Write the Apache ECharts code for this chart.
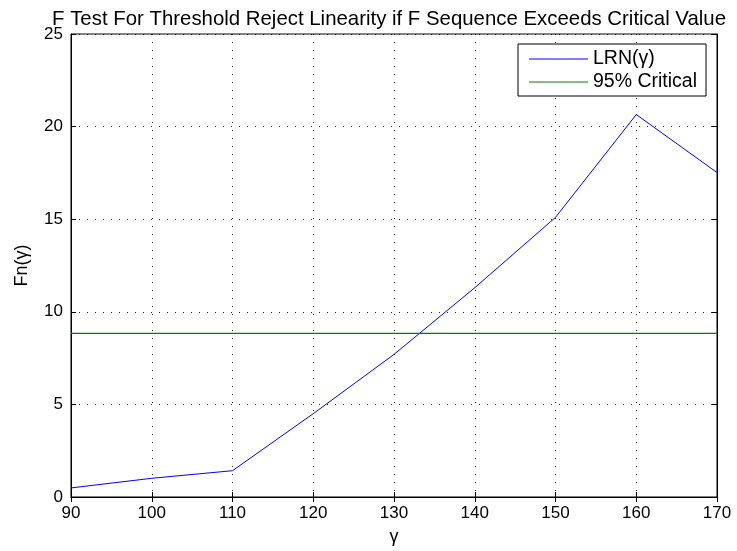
<!DOCTYPE html>
<html>
<head>
<meta charset="utf-8">
<script src="https://cdn.jsdelivr.net/npm/echarts@6/dist/echarts.min.js"></script>
<style>
html,body{margin:0;padding:0;background:#fff;}
#chart{width:737px;height:551px;}
</style>
</head>
<body>
<div id="chart"></div>
<script>
var gammaValues = [90, 100, 110, 120, 130, 140, 150, 160, 170];
var lrnValues = [0.49, 1.01, 1.42, 4.5, 7.7, 11.3, 15.1, 20.65, 17.52];
var criticalValue = 8.83;
var xTicks = [90, 100, 110, 120, 130, 140, 150, 160, 170];
var yTicks = [0, 5, 10, 15, 20, 25];

var font = 'Liberation Sans, Arial, Helvetica, sans-serif';
var lrnData = gammaValues.map(function (g, i) { return [g, lrnValues[i]]; });
var critData = [[xTicks[0], criticalValue], [xTicks[xTicks.length - 1], criticalValue]];

var chart = echarts.init(document.getElementById('chart'), null, {renderer: 'canvas'});
var gridLine = {show: true, lineStyle: {color: '#222', type: [1, 7], width: 1}};
var tickStyle = {show: true, inside: true, length: 5, lineStyle: {color: '#000'}};
chart.setOption({
  animation: false,
  backgroundColor: '#fff',
  title: {
    text: 'F Test For Threshold Reject Linearity if F Sequence Exceeds Critical Value',
    left: 384, top: 4, textAlign: 'center',
    textStyle: {fontFamily: font, fontSize: 20.4, fontWeight: 'normal', color: '#000'}
  },
  legend: {
    orient: 'vertical', left: 518, top: 44,
    padding: [5, 9, 4, 11],
    itemGap: 3, itemWidth: 59, itemHeight: 14,
    backgroundColor: '#fff', borderColor: '#000', borderWidth: 1,
    textStyle: {fontFamily: font, fontSize: 19.5, color: '#000'},
    data: [
      {name: 'LRN(γ)', icon: 'path://M0,7L59,7L59,8L0,8Z', itemStyle: {color: '#0000ff'}},
      {name: '95% Critical', icon: 'path://M0,7L59,7L59,8L0,8Z', itemStyle: {color: '#008000'}}
    ]
  },
  grid: {left: 71, right: 20, top: 34, bottom: 54, show: true, borderColor: '#000', borderWidth: 1},
  xAxis: [{
    type: 'value', min: xTicks[0], max: xTicks[xTicks.length - 1], interval: 10,
    name: 'γ', nameLocation: 'middle', nameGap: 31,
    nameTextStyle: {fontFamily: font, fontSize: 18, color: '#000'},
    axisLine: {show: true, onZero: false, lineStyle: {color: '#000'}},
    axisTick: tickStyle,
    axisLabel: {fontFamily: font, fontSize: 17, color: '#000', margin: 8},
    splitLine: gridLine
  }, {
    type: 'value', position: 'top', min: xTicks[0], max: xTicks[xTicks.length - 1], interval: 10,
    axisLine: {show: true, lineStyle: {color: '#000'}},
    axisTick: tickStyle, axisLabel: {show: false}, splitLine: {show: false}
  }],
  yAxis: [{
    type: 'value', min: yTicks[0], max: yTicks[yTicks.length - 1], interval: 5,
    name: 'Fn(γ)', nameLocation: 'middle', nameGap: 40, nameRotate: 90,
    nameTextStyle: {fontFamily: font, fontSize: 18, color: '#000'},
    axisLine: {show: true, onZero: false, lineStyle: {color: '#000'}},
    axisTick: tickStyle,
    axisLabel: {fontFamily: font, fontSize: 17, color: '#000', margin: 8},
    splitLine: gridLine
  }, {
    type: 'value', position: 'right', min: yTicks[0], max: yTicks[yTicks.length - 1], interval: 5,
    axisLine: {show: true, lineStyle: {color: '#000'}},
    axisTick: tickStyle, axisLabel: {show: false}, splitLine: {show: false}
  }],
  series: [{
    name: 'LRN(γ)', type: 'line', data: lrnData, symbol: 'none', z: 3,
    lineStyle: {color: '#0000ff', width: 1}, itemStyle: {color: '#0000ff'}
  }, {
    name: '95% Critical', type: 'line', data: critData, symbol: 'none', z: 3,
    lineStyle: {color: '#008000', width: 1.2}, itemStyle: {color: '#008000'}
  }]
});
</script>
</body>
</html>
